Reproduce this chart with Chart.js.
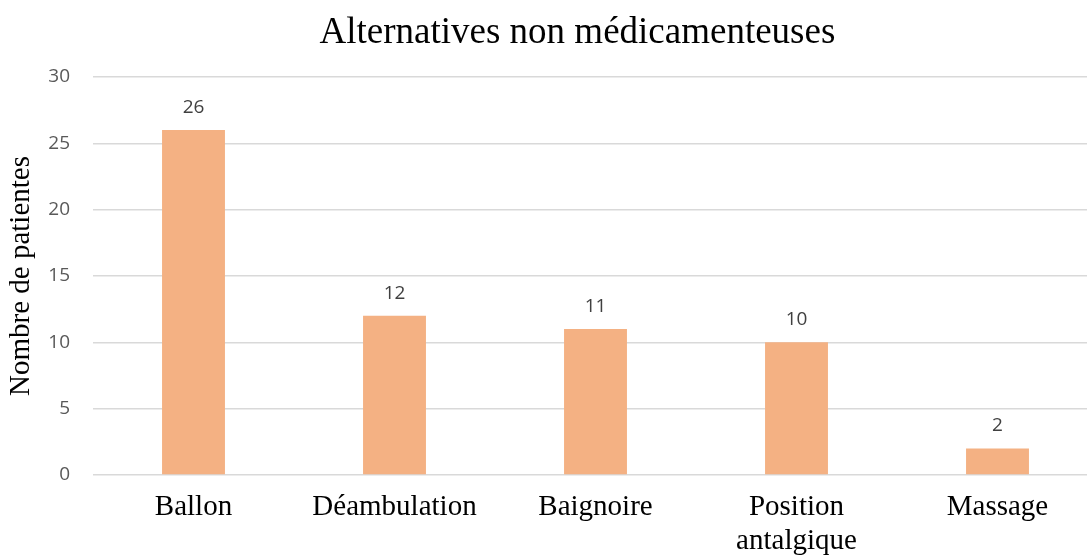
<!DOCTYPE html>
<html>
<head>
<meta charset="utf-8">
<script src="https://cdn.jsdelivr.net/npm/chart.js@4"></script>
<style>
  html, body { margin: 0; padding: 0; background: #fff; overflow: hidden; }
  #wrap { width: 1098px; height: 557px; }
</style>
</head>
<body>
<div id="wrap"><canvas id="myChart"></canvas></div>
<script>
const categories = ['Ballon', 'Déambulation', 'Baignoire', ['Position', 'antalgique'], 'Massage'];
const patientes = [26, 12, 11, 10, 2];
const yTicks = [0, 5, 10, 15, 20, 25, 30];
const titre = 'Alternatives non médicamenteuses';

const serif = '"Liberation Serif", "Times New Roman", serif';
const sans = '"Open Sans", "Liberation Sans", sans-serif';

// etiquettes de valeurs au-dessus des barres + titre
const valeurs = {
  id: 'valeurs',
  afterDatasetsDraw(chart) {
    const ctx = chart.ctx;
    const meta = chart.getDatasetMeta(0);
    ctx.save();
    ctx.font = '19px ' + sans;
    ctx.fillStyle = '#404040';
    ctx.textAlign = 'center';
    ctx.textBaseline = 'alphabetic';
    meta.data.forEach((bar, i) => {
      ctx.fillText(chart.data.datasets[0].data[i], bar.x, bar.y - 17);
    });
    // titre
    const area = chart.chartArea;
    ctx.font = '37px ' + serif;
    ctx.fillStyle = '#000';
    ctx.fillText(titre, area.left + (area.right - area.left) * 0.482, 43);
    ctx.restore();
  }
};

const ctx = document.getElementById('myChart');

new Chart(ctx, {
  type: 'bar',
  data: {
    labels: categories,
    datasets: [{
      label: 'Nombre de patientes',
      data: patientes,
      backgroundColor: '#F4B183',
      categoryPercentage: 1,
      barPercentage: 0.313
    }]
  },
  options: {
    responsive: true,
    maintainAspectRatio: false,
    animation: false,
    layout: { padding: { top: 77, right: 0, bottom: 0, left: 0 } },
    plugins: {
      legend: { display: false },
      tooltip: { enabled: false },
      title: { display: false }
    },
    scales: {
      x: {
        grid: { display: false, drawTicks: false },
        border: { display: false },
        ticks: {
          color: '#000',
          font: { family: serif, size: 29, lineHeight: 1.15 },
          padding: 16,
          maxRotation: 0,
          autoSkip: false
        },
        afterFit(scale) { scale.height = 82; }
      },
      y: {
        min: 0,
        max: 30,
        afterBuildTicks(scale) { scale.ticks = yTicks.map(v => ({ value: v })); },
        grid: { color: '#D9D9D9', lineWidth: 1.5, drawTicks: false },
        border: { display: false },
        ticks: {
          color: '#595959',
          font: { family: sans, size: 19 },
          padding: 23
        },
        title: {
          display: true,
          text: 'Nombre de patientes',
          color: '#000',
          font: { family: serif, size: 29 },
          padding: { top: 4, bottom: 0 }
        },
        afterFit(scale) { scale.width = 93; }
      }
    }
  },
  plugins: [valeurs]
});
</script>
</body>
</html>
